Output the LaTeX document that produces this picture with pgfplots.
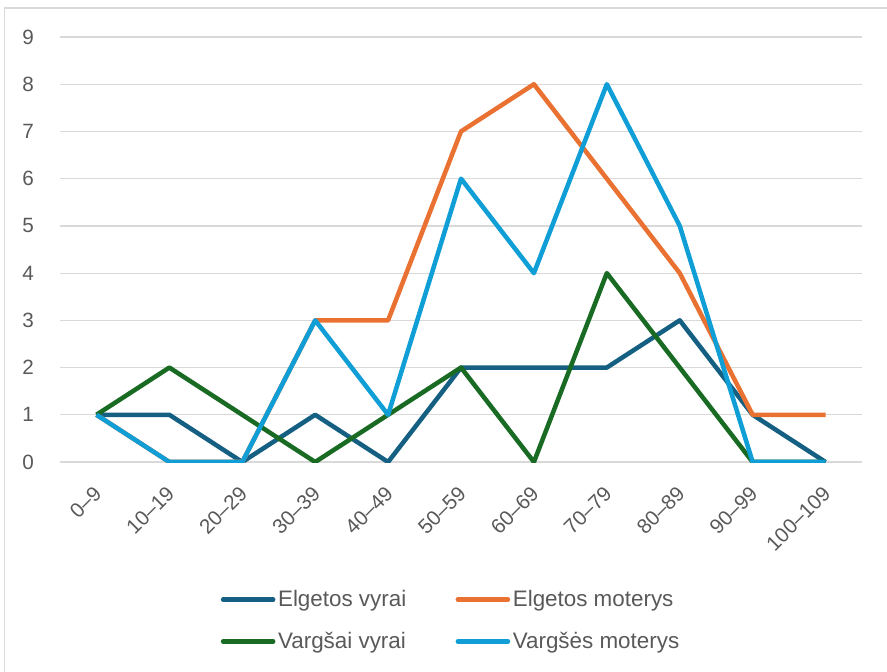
\documentclass[border=0pt]{standalone}
\usepackage{pgfplots}
\pgfplotsset{compat=1.18}
\usepackage{fontspec}
\setmainfont{Liberation Sans}
\definecolor{cEV}{HTML}{156082}
\definecolor{cEM}{HTML}{E97132}
\definecolor{cVV}{HTML}{196B24}
\definecolor{cVM}{HTML}{0F9ED5}
\definecolor{txt}{HTML}{595959}
\definecolor{grd}{HTML}{D9D9D9}
\begin{document}
\begin{tikzpicture}
\useasboundingbox (0,0) rectangle (665.25pt,-503.25pt);
\draw[color=grd, line width=0.8pt] (3.6pt,-6pt) rectangle (700pt,-540pt);
\begin{axis}[
  at={(45pt,-346.5pt)}, anchor=south west,
  scale only axis, width=601.5pt, height=318.75pt,
  xmin=-0.5, xmax=10.5, ymin=0, ymax=9,
  xtick={0,...,10},
  xticklabels={0–9,10–19,20–29,30–39,40–49,50–59,60–69,70–79,80–89,90–99,100–109},
  ytick={0,...,9},
  ymajorgrids, grid style={color=grd, line width=0.9pt},
  axis line style={draw=none},
  major tick length=0pt,
  /pgf/number format/assume math mode=true,
  tick label style={font=\fontsize{15.5}{18}\selectfont, text=txt},
  yticklabel style={xshift=-16pt},
  xticklabel style={xshift=-3pt, yshift=-17pt, rotate=45, anchor=north east, inner sep=0pt},
  legend style={draw=none, fill=none, at={(0.488,-0.373)}, anchor=center,
    font=\fontsize{16.8}{19}\selectfont, text=txt,
    /tikz/every even column/.append style={column sep=35pt},
    row sep=13.5pt},
  legend columns=2,
  legend cell align=left,
  legend image code/.code={\draw[#1, line cap=round] (0pt,0pt) -- (37.5pt,0pt);},
  every axis plot/.append style={line width=3.4pt, line join=round},
]
\addplot[cEV] coordinates {(0,1)(1,1)(2,0)(3,1)(4,0)(5,2)(6,2)(7,2)(8,3)(9,1)(10,0)};
\addlegendentry{Elgetos vyrai}
\addplot[cEM] coordinates {(0,1)(1,0)(2,0)(3,3)(4,3)(5,7)(6,8)(7,6)(8,4)(9,1)(10,1)};
\addlegendentry{Elgetos moterys}
\addplot[cVV] coordinates {(0,1)(1,2)(2,1)(3,0)(4,1)(5,2)(6,0)(7,4)(8,2)(9,0)(10,0)};
\addlegendentry{Vargšai vyrai}
\addplot[cVM] coordinates {(0,1)(1,0)(2,0)(3,3)(4,1)(5,6)(6,4)(7,8)(8,5)(9,0)(10,0)};
\addlegendentry{Vargšės moterys}
\end{axis}
\end{tikzpicture}
\end{document}
